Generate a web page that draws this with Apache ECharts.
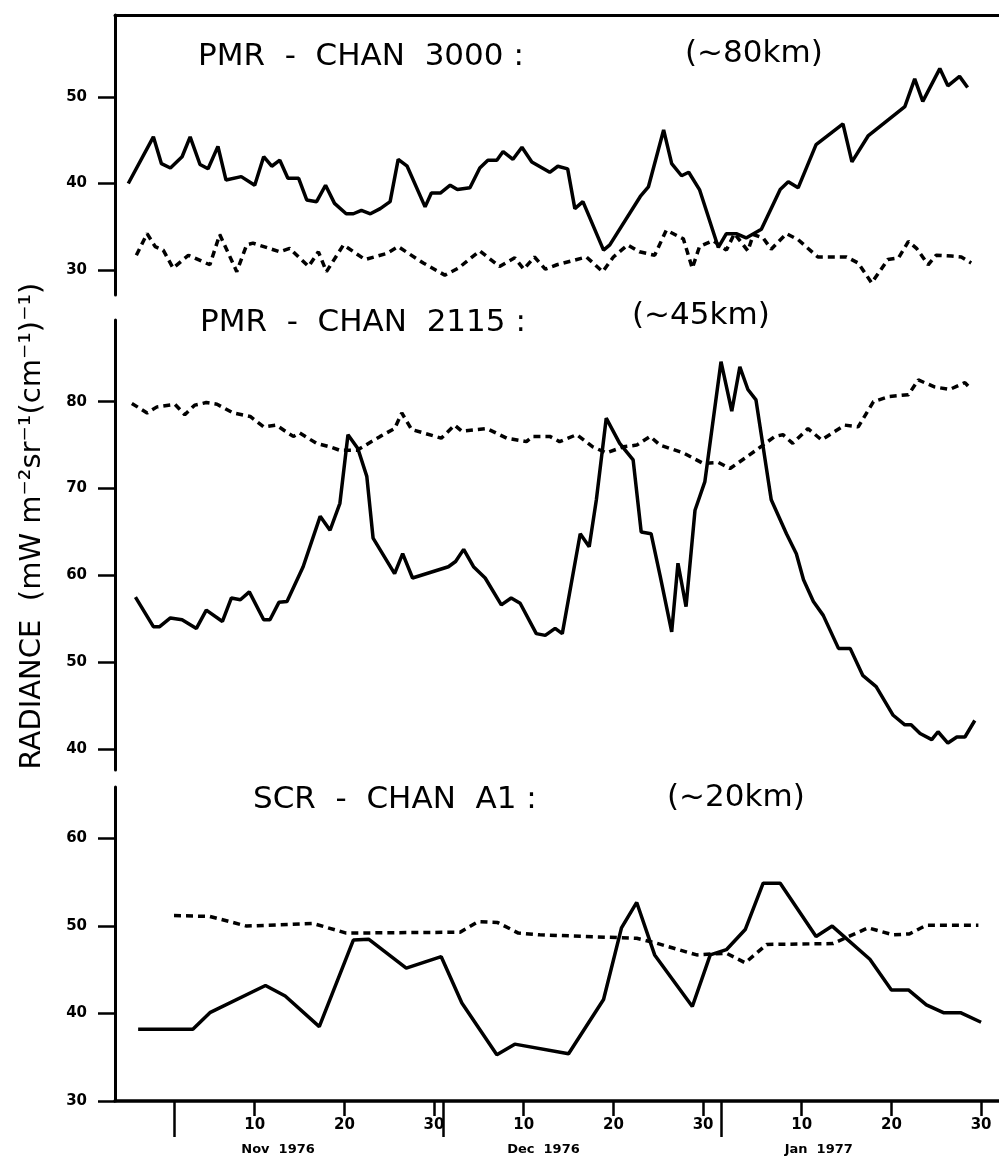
<!DOCTYPE html>
<html>
<head>
<meta charset="UTF-8">
<title>Radiance Nov 1976 - Jan 1977</title>
<script src="https://cdn.jsdelivr.net/npm/echarts@6.0.0/dist/echarts.min.js"></script>
<style>
  html, body { margin: 0; padding: 0; background: #fff; }
  #chart { width: 999px; height: 1161px; }
</style>
</head>
<body>
<div id="chart"></div>
<script>
// x = days since 1 Nov 1976
const dayTicks = [9, 19, 29, 39, 49, 59, 70, 80, 90];
const dayTickLabels = ['10', '20', '30', '10', '20', '30', '10', '20', '30'];
const monthStarts = [0, 30, 61];
const monthLabelDays = [11.6, 41.2, 71.9];
const monthLabels = ['Nov  1976', 'Dec  1976', 'Jan  1977'];

const panelNames = ['PMR  -  CHAN  3000 :', 'PMR  -  CHAN  2115 :', 'SCR  -  CHAN  A1 :'];
const panelHeights = ['(~80km)', '(~45km)', '(~20km)'];
const yTicks = [[30, 40, 50], [40, 50, 60, 70, 80], [30, 40, 50, 60]];
const yAxisTitle = 'RADIANCE  (mW m\u207B\u00B2sr\u207B\u00B9(cm\u207B\u00B9)\u207B\u00B9)';

// PMR chan 3000 (~80 km)
const chan3000Solid = [[-5.1,40.0],[-2.3,45.4],[-1.4,42.3],[-0.4,41.8],[0.9,43.1],[1.8,45.4],[2.9,42.2],[3.8,41.7],[4.9,44.3],[5.8,40.4],[7.5,40.8],[9.0,39.8],[10.0,43.1],[10.9,42.0],[11.8,42.7],[12.7,40.6],[13.9,40.6],[14.8,38.1],[15.9,37.9],[16.9,39.8],[17.9,37.7],[19.2,36.5],[20.0,36.5],[20.9,36.9],[21.9,36.5],[23.0,37.1],[24.1,37.9],[25.0,42.8],[26.0,42.0],[28.0,37.3],[28.7,38.9],[29.7,38.9],[30.8,39.8],[31.6,39.3],[33.0,39.5],[34.1,41.8],[35.0,42.7],[36.0,42.7],[36.7,43.7],[37.8,42.8],[38.8,44.2],[39.9,42.5],[41.9,41.3],[42.8,42.0],[43.9,41.7],[44.7,37.1],[45.6,37.9],[47.9,32.3],[48.6,32.9],[52.0,38.5],[52.9,39.6],[54.6,46.2],[55.5,42.3],[56.6,40.9],[57.4,41.3],[58.6,39.3],[60.7,32.6],[61.6,34.2],[62.7,34.2],[63.8,33.7],[65.5,34.7],[67.6,39.3],[68.5,40.2],[69.6,39.5],[71.6,44.5],[74.6,46.9],[75.6,42.5],[77.4,45.5],[81.5,48.9],[82.6,52.1],[83.5,49.5],[85.4,53.3],[86.3,51.3],[87.6,52.4],[88.5,51.1]];
const chan3000Dashed = [[-4.2,31.7],[-3.0,34.2],[-2.1,32.7],[-1.2,32.3],[-0.1,30.2],[1.6,31.7],[4.0,30.6],[5.1,34.1],[7.0,29.8],[8.1,32.9],[8.8,33.1],[11.8,32.1],[12.9,32.5],[15.0,30.4],[16.1,32.1],[17.0,29.8],[18.9,32.9],[21.3,31.2],[23.7,31.9],[25.0,32.7],[27.8,30.8],[30.2,29.4],[31.7,30.2],[34.1,32.2],[36.3,30.4],[38.0,31.4],[39.0,30.1],[40.2,31.5],[41.4,30.1],[42.7,30.6],[46.0,31.5],[47.8,29.8],[49.0,31.5],[50.6,32.9],[51.9,32.1],[53.6,31.7],[54.9,34.6],[56.8,33.6],[57.8,30.2],[58.6,32.7],[60.1,33.4],[61.6,32.3],[62.5,34.2],[64.0,32.2],[64.6,34.1],[65.7,33.7],[66.6,32.4],[68.3,34.2],[69.6,33.5],[71.8,31.5],[75.0,31.5],[76.3,30.8],[77.8,28.5],[79.6,31.2],[80.8,31.4],[81.9,33.3],[82.8,32.5],[84.1,30.6],[85.0,31.7],[86.7,31.6],[87.8,31.5],[88.9,30.8]];

// PMR chan 2115 (~45 km)
const chan2115Solid = [[-4.3,57.5],[-2.3,54.1],[-1.6,54.1],[-0.4,55.1],[0.9,54.9],[2.5,53.9],[3.6,56.0],[5.4,54.7],[6.4,57.4],[7.4,57.2],[8.4,58.1],[10.0,54.9],[10.7,54.9],[11.7,56.9],[12.6,57.0],[14.4,61.0],[16.3,66.8],[17.4,65.2],[18.5,68.3],[19.4,76.2],[20.5,74.6],[21.5,71.4],[22.2,64.3],[24.6,60.2],[25.5,62.5],[26.6,59.7],[30.6,61.0],[31.4,61.6],[32.3,63.0],[33.4,61.0],[34.7,59.7],[36.5,56.6],[37.6,57.4],[38.6,56.8],[40.4,53.3],[41.4,53.1],[42.5,53.9],[43.3,53.3],[45.3,64.8],[46.3,63.3],[47.1,68.7],[48.2,78.1],[49.7,75.2],[51.2,73.3],[52.1,65.0],[53.2,64.8],[54.2,60.0],[55.5,53.5],[56.2,61.4],[57.1,56.4],[58.1,67.5],[59.2,70.8],[61.0,84.6],[62.2,78.9],[63.1,84.0],[64.0,81.4],[64.9,80.2],[66.6,68.7],[68.3,64.8],[69.4,62.5],[70.2,59.5],[71.3,57.0],[72.4,55.4],[74.1,51.6],[75.4,51.6],[76.8,48.5],[78.3,47.2],[80.2,43.9],[81.5,42.8],[82.2,42.8],[83.2,41.8],[84.5,41.1],[85.2,42.0],[86.3,40.7],[87.3,41.4],[88.2,41.4],[89.3,43.3]];
const chan2115Dashed = [[-4.7,79.8],[-3.0,78.7],[-1.9,79.4],[0.1,79.7],[1.2,78.5],[2.3,79.6],[3.6,79.9],[4.8,79.7],[6.6,78.7],[8.5,78.3],[10.0,77.1],[11.4,77.3],[13.3,76.0],[14.0,76.4],[15.9,75.2],[17.4,74.8],[18.5,74.4],[20.4,74.4],[23.0,76.0],[24.6,76.9],[25.4,78.7],[26.5,76.8],[29.8,75.8],[31.3,77.3],[32.1,76.6],[34.9,76.9],[37.1,75.8],[39.3,75.4],[40.0,76.0],[41.9,76.0],[43.0,75.4],[44.9,76.2],[46.7,74.8],[48.2,74.1],[50.1,74.8],[51.6,75.0],[53.1,76.0],[54.2,75.0],[56.8,74.1],[59.0,72.9],[60.7,73.0],[62.0,72.3],[64.9,74.4],[67.0,76.0],[67.9,76.2],[69.0,75.2],[70.7,76.9],[72.2,75.6],[74.8,77.3],[76.3,77.1],[78.0,80.0],[79.8,80.6],[81.9,80.8],[83.0,82.5],[84.8,81.7],[86.5,81.4],[88.2,82.2],[88.9,81.4]];

// SCR chan A1 (~20 km)
const chanA1Solid = [[-4.0,38.2],[2.1,38.2],[4.0,40.1],[10.2,43.2],[12.4,42.0],[16.2,38.5],[20.0,48.4],[21.7,48.5],[25.9,45.2],[29.8,46.5],[32.1,41.2],[36.0,35.3],[38.0,36.5],[44.0,35.4],[47.9,41.6],[49.9,49.8],[51.6,52.7],[53.6,46.7],[57.8,40.8],[59.8,46.7],[61.6,47.3],[63.7,49.6],[65.7,54.9],[67.6,54.9],[71.6,48.8],[73.4,50.0],[77.6,46.2],[80.0,42.7],[81.9,42.7],[83.9,41.0],[85.8,40.1],[87.7,40.1],[90.0,39.0]];
const chanA1Dashed = [[0,51.2],[4.0,51.1],[8.1,50.0],[15.5,50.3],[19.2,49.2],[31.9,49.3],[33.9,50.5],[36.1,50.4],[38.4,49.2],[40.8,49.0],[51.6,48.6],[53.6,48.1],[58.3,46.7],[61.6,46.9],[63.7,45.8],[66.1,47.9],[73.5,48.0],[77.4,49.8],[80.2,49.0],[82.0,49.1],[83.9,50.1],[89.7,50.1]];

const X_MIN = -6.58, X_MAX = 92.0;
const FONT = 'DejaVu Sans';

const grids = [
    { left: 115, right: 0, top: 15, height: 280 },
    { left: 115, right: 0, top: 320, height: 450 },
    { left: 115, right: 0, top: 787, height: 314 }
];
const yRanges = [[27.1, 59.5], [37.6, 89.4], [30, 65.9]];

function makeYAxis(i) {
    return {
        type: 'value', gridIndex: i,
        min: yRanges[i][0], max: yRanges[i][1],
        splitLine: { show: false },
        axisLine: { show: true, onZero: false, lineStyle: { color: '#000', width: 3 } },
        axisTick: { show: true, length: 17, customValues: yTicks[i], lineStyle: { color: '#000', width: 2.5 } },
        axisLabel: {
            customValues: yTicks[i], margin: 28, color: '#000',
            fontFamily: FONT, fontWeight: 'bold', fontSize: 15
        }
    };
}

function lineSeries(data, idx, dashed) {
    return {
        type: 'line', xAxisIndex: idx, yAxisIndex: idx,
        data: data, showSymbol: false, symbol: 'none', silent: true,
        lineStyle: { color: '#000', width: 3.5, type: dashed ? [7, 5] : 'solid' }
    };
}

const graphics = [];
const titleY = [[57, 54], [323, 316], [800, 798]];
const titleX = [[198, 685], [200, 632], [253, 667]];
for (let i = 0; i < 3; i++) {
    graphics.push({
        type: 'text', x: titleX[i][0], y: titleY[i][0],
        style: { text: panelNames[i], fontFamily: FONT, fontSize: 31, fill: '#000', verticalAlign: 'middle' }
    });
    graphics.push({
        type: 'text', x: titleX[i][1], y: titleY[i][1],
        style: { text: panelHeights[i], fontFamily: FONT, fontSize: 31, fill: '#000', verticalAlign: 'middle' }
    });
}
graphics.push({
    type: 'text', x: 32, y: 526, rotation: Math.PI / 2,
    style: { text: yAxisTitle, fontFamily: FONT, fontSize: 29, fill: '#000', align: 'center', verticalAlign: 'middle' }
});

const chart = echarts.init(document.getElementById('chart'));
chart.setOption({
    animation: false,
    backgroundColor: '#fff',
    grid: grids,
    xAxis: [
        {
            type: 'value', gridIndex: 0, position: 'top', min: X_MIN, max: X_MAX,
            splitLine: { show: false }, axisTick: { show: false }, axisLabel: { show: false },
            axisLine: { show: true, onZero: false, lineStyle: { color: '#000', width: 3 } }
        },
        { type: 'value', gridIndex: 1, min: X_MIN, max: X_MAX, show: false },
        {
            type: 'value', gridIndex: 2, position: 'bottom', min: X_MIN, max: X_MAX,
            splitLine: { show: false },
            axisLine: { show: true, onZero: false, lineStyle: { color: '#000', width: 3.5 } },
            axisTick: { show: true, length: 15, customValues: dayTicks, lineStyle: { color: '#000', width: 2.5 } },
            axisLabel: {
                customValues: dayTicks, margin: 17, color: '#000',
                fontFamily: FONT, fontWeight: 'bold', fontSize: 15,
                formatter: v => dayTickLabels[dayTicks.indexOf(v)]
            }
        },
        {
            type: 'value', gridIndex: 2, position: 'bottom', min: X_MIN, max: X_MAX,
            splitLine: { show: false },
            axisLine: { show: false, onZero: false },
            axisTick: { show: true, length: 36, customValues: monthStarts, lineStyle: { color: '#000', width: 2.5 } },
            axisLabel: {
                customValues: monthLabelDays, margin: 42, color: '#000',
                fontFamily: FONT, fontWeight: 'bold', fontSize: 13,
                formatter: v => monthLabels[monthLabelDays.indexOf(v)]
            }
        }
    ],
    yAxis: [makeYAxis(0), makeYAxis(1), makeYAxis(2)],
    series: [
        lineSeries(chan3000Solid, 0, false),
        lineSeries(chan3000Dashed, 0, true),
        lineSeries(chan2115Solid, 1, false),
        lineSeries(chan2115Dashed, 1, true),
        lineSeries(chanA1Solid, 2, false),
        lineSeries(chanA1Dashed, 2, true)
    ],
    graphic: graphics
});
window.addEventListener('resize', () => chart.resize());
</script>
</body>
</html>
